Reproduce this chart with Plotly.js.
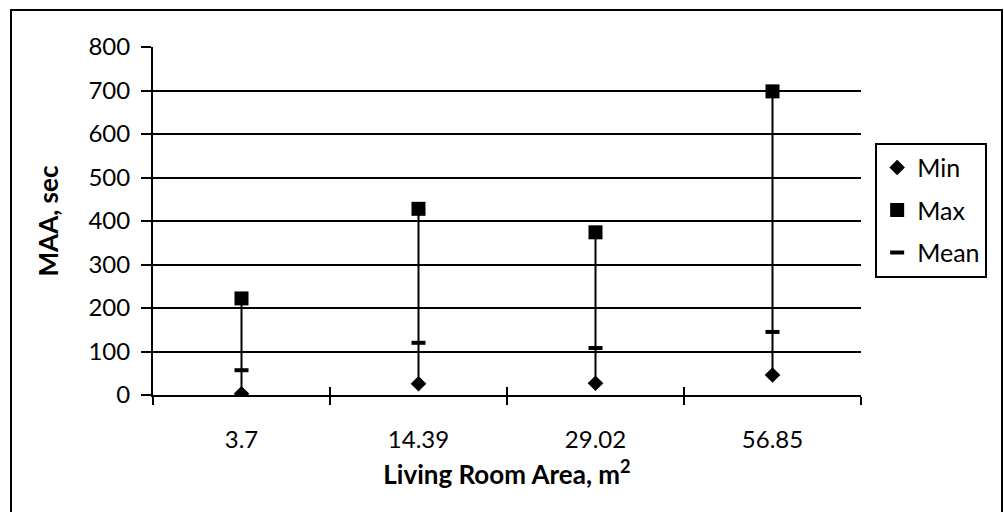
<!DOCTYPE html>
<html>
<head>
<meta charset="utf-8">
<script src="https://cdn.plot.ly/plotly-3.0.1.min.js"></script>
<style>
  html, body { margin: 0; padding: 0; background: #fff; }
  #chart { position: absolute; left: 0; top: 0; width: 1004px; height: 512px; }
  #frame { position: absolute; left: 10px; top: 9px; width: 993px; height: 510px;
           border: 2px solid #000; box-sizing: border-box; pointer-events: none; }
</style>
</head>
<body>
<div id="chart"></div>
<div id="frame"></div>
<script>
// Living room area categories (m²) and MAA statistics (seconds)
const areas = ['3.7', '14.39', '29.02', '56.85'];
const minVals = [3, 26, 27, 46];
const maxVals = [222, 428, 374, 698];
const meanVals = [57, 120, 108, 145];

const FONT = 'Lato, "Open Sans", sans-serif';

// High-low line per category, from min up to max
const rangeX = [], rangeY = [];
areas.forEach((a, i) => {
  rangeX.push(a, a, null);
  rangeY.push(minVals[i], maxVals[i], null);
});

const traces = [
  {
    x: rangeX, y: rangeY, type: 'scatter', mode: 'lines',
    line: { color: '#000', width: 2 },
    showlegend: false, hoverinfo: 'skip'
  },
  {
    name: 'Min', x: areas, y: minVals, type: 'scatter', mode: 'markers',
    marker: { symbol: 'diamond', size: 12, color: '#000' },
    legendgroup: 'a'
  },
  {
    name: 'Max', x: areas, y: maxVals, type: 'scatter', mode: 'markers',
    marker: { symbol: 'square', size: 14, color: '#000' },
    legendgroup: 'b'
  },
  {
    name: 'Mean', x: areas, y: meanVals, type: 'scatter', mode: 'markers',
    marker: { symbol: 'line-ew', size: 10, color: '#000', line: { color: '#000', width: 4 } },
    legendgroup: 'c'
  },
  // carries the upward half of the category boundary ticks
  {
    x: areas, y: minVals, xaxis: 'x2', type: 'scatter', mode: 'markers',
    marker: { opacity: 0 }, showlegend: false, hoverinfo: 'skip'
  }
];

const layout = {
  width: 1004, height: 512,
  margin: { l: 153, r: 143, t: 47, b: 117 },
  paper_bgcolor: '#fff', plot_bgcolor: '#fff',
  font: { family: FONT, size: 24, color: '#000' },
  showlegend: true,
  xaxis: {
    type: 'category', categoryorder: 'array', categoryarray: areas,
    range: [-0.5, 3.5],
    tickson: 'boundaries', ticks: 'outside', ticklen: 8, tickwidth: 2, tickcolor: '#000',
    ticklabelstandoff: 22,
    showline: true, linecolor: '#000', linewidth: 2,
    showgrid: false, zeroline: false,
    tickfont: { family: FONT, size: 24, color: '#000' },
    title: { text: '<b>Living Room Area, m<sup>2</sup></b>', standoff: 14,
             font: { family: FONT, size: 26, color: '#000' } }
  },
  xaxis2: {
    type: 'category', categoryorder: 'array', categoryarray: areas,
    overlaying: 'x', side: 'bottom', anchor: 'y',
    range: [-0.5, 3.5],
    tickson: 'boundaries', ticks: 'inside', ticklen: 8, tickwidth: 2, tickcolor: '#000',
    showticklabels: false, showline: false, showgrid: false, zeroline: false
  },
  yaxis: {
    range: [0, 800], dtick: 100, tick0: 0,
    ticks: 'outside', ticklen: 10, tickwidth: 2, tickcolor: '#000',
    ticklabelstandoff: 6,
    showline: true, linecolor: '#000', linewidth: 2,
    showgrid: true, gridcolor: '#000', gridwidth: 2,
    zeroline: false,
    tickfont: { family: FONT, size: 24, color: '#000' },
    title: { text: '<b>MAA, sec</b>', standoff: 22,
             font: { family: FONT, size: 26, color: '#000' } }
  },
  legend: {
    x: 1.02, y: 0.725, xanchor: 'left', yanchor: 'top',
    bordercolor: '#000', borderwidth: 2, bgcolor: '#fff',
    font: { family: FONT, size: 25, color: '#000' },
    itemwidth: 30, tracegroupgap: 7
  }
};

Plotly.newPlot('chart', traces, layout, { displayModeBar: false, staticPlot: true });
</script>
</body>
</html>
